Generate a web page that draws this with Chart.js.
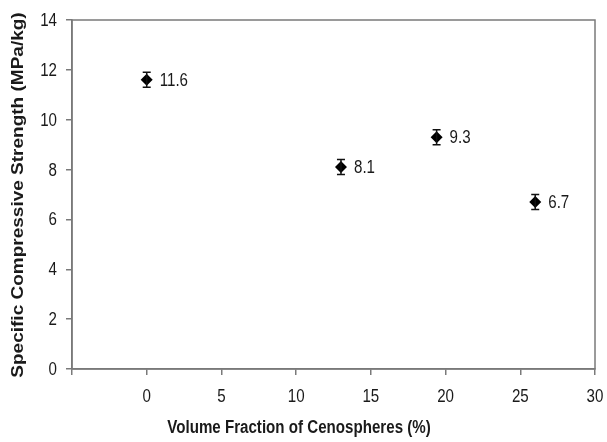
<!DOCTYPE html>
<html>
<head>
<meta charset="utf-8">
<script src="https://cdn.jsdelivr.net/npm/chart.js@4"></script>
<style>
  html, body { margin: 0; padding: 0; background: #fff; }
  #wrap { width: 607px; height: 442px; }
</style>
</head>
<body>
<div id="wrap"><canvas id="myChart" width="607" height="442"></canvas></div>
<script>
// data
const volFraction = [0, 13, 19.4, 26];
const strength = [11.6, 8.1, 9.3, 6.7];
const errBar = [0.3, 0.3, 0.3, 0.3];
const pointLabels = ['11.6', '8.1', '9.3', '6.7'];
const xTitle = 'Volume Fraction of Cenospheres (%)';
const yTitle = 'Specific Compressive Strength (MPa/kg)';

const axisColor = '#7a7a7a';
const textColor = '#1a1a1a';
const fam = '"Liberation Sans", Arial, sans-serif';
const squeeze = 0.84; // the text in the picture is a bit condensed

// text drawn squeezed horizontally
function sqText(ctx, txt, x, y, align) {
   ctx.save();
   ctx.translate(x, y);
   ctx.scale(squeeze, 1);
   ctx.textAlign = align;
   ctx.fillText(txt, 0, 0);
   ctx.restore();
}

// frame, error bars, labels, tick labels and titles
const extras = {
   id: 'extras',
   afterDatasetsDraw(chart) {
      const ctx = chart.ctx, xs = chart.scales.x, ys = chart.scales.y;
      const a = chart.chartArea;
      ctx.save();
      ctx.strokeStyle = axisColor;
      ctx.lineWidth = 1.5;
      ctx.strokeRect(a.left, a.top, a.right - a.left, a.bottom - a.top);

      ctx.strokeStyle = '#111';
      ctx.fillStyle = textColor;
      ctx.textBaseline = 'middle';
      volFraction.forEach((v, i) => {
         const px = xs.getPixelForValue(v);
         const top = ys.getPixelForValue(strength[i] + errBar[i]);
         const bot = ys.getPixelForValue(strength[i] - errBar[i]);
         ctx.beginPath();
         ctx.moveTo(px, top); ctx.lineTo(px, bot);
         ctx.moveTo(px - 4, top); ctx.lineTo(px + 4, top);
         ctx.moveTo(px - 4, bot); ctx.lineTo(px + 4, bot);
         ctx.stroke();
         ctx.font = '18px ' + fam;
         sqText(ctx, pointLabels[i], px + 13, ys.getPixelForValue(strength[i]) + 1, 'left');
      });

      // tick labels
      ctx.font = '18px ' + fam;
      xs.ticks.forEach(t => {
         if (t.value < 0) return;
         sqText(ctx, String(t.value), xs.getPixelForValue(t.value), a.bottom + 28, 'center');
      });
      ys.ticks.forEach(t => {
         sqText(ctx, String(t.value), a.left - 15, ys.getPixelForValue(t.value) + 1, 'right');
      });

      // axis titles
      ctx.font = 'bold 18px ' + fam;
      sqText(ctx, xTitle, 299, 428, 'center');
      ctx.font = 'bold 19px ' + fam;
      ctx.translate(19, 195);
      ctx.rotate(-Math.PI / 2);
      ctx.scale(1, squeeze);
      ctx.textAlign = 'center';
      ctx.fillText(yTitle, 0, 0);
      ctx.restore();
   }
};

new Chart(document.getElementById('myChart').getContext('2d'), {
   type: 'scatter',
   data: {
      datasets: [{
         data: volFraction.map((v, i) => ({x: v, y: strength[i]})),
         pointStyle: 'rectRot',
         pointRadius: 6,
         pointHoverRadius: 6,
         backgroundColor: '#000',
         borderColor: '#000',
         borderWidth: 0
      }]
   },
   options: {
      responsive: false,
      animation: false,
      devicePixelRatio: 1,
      layout: {padding: {top: 20, right: 12, left: 0, bottom: 0}},
      plugins: {legend: {display: false}, tooltip: {enabled: false}},
      scales: {
         x: {
            type: 'linear', min: -5, max: 30,
            ticks: {stepSize: 5, display: false},
            grid: {drawOnChartArea: false, color: axisColor, tickLength: 6, lineWidth: 1.5},
            border: {color: axisColor, width: 1.5},
            afterFit: s => { s.height = 73; }
         },
         y: {
            min: 0, max: 14,
            ticks: {stepSize: 2, display: false},
            grid: {drawOnChartArea: false, color: axisColor, tickLength: 6, lineWidth: 1.5},
            border: {color: axisColor, width: 1.5},
            afterFit: s => { s.width = 72; }
         }
      }
   },
   plugins: [extras]
});
</script>
</body>
</html>
